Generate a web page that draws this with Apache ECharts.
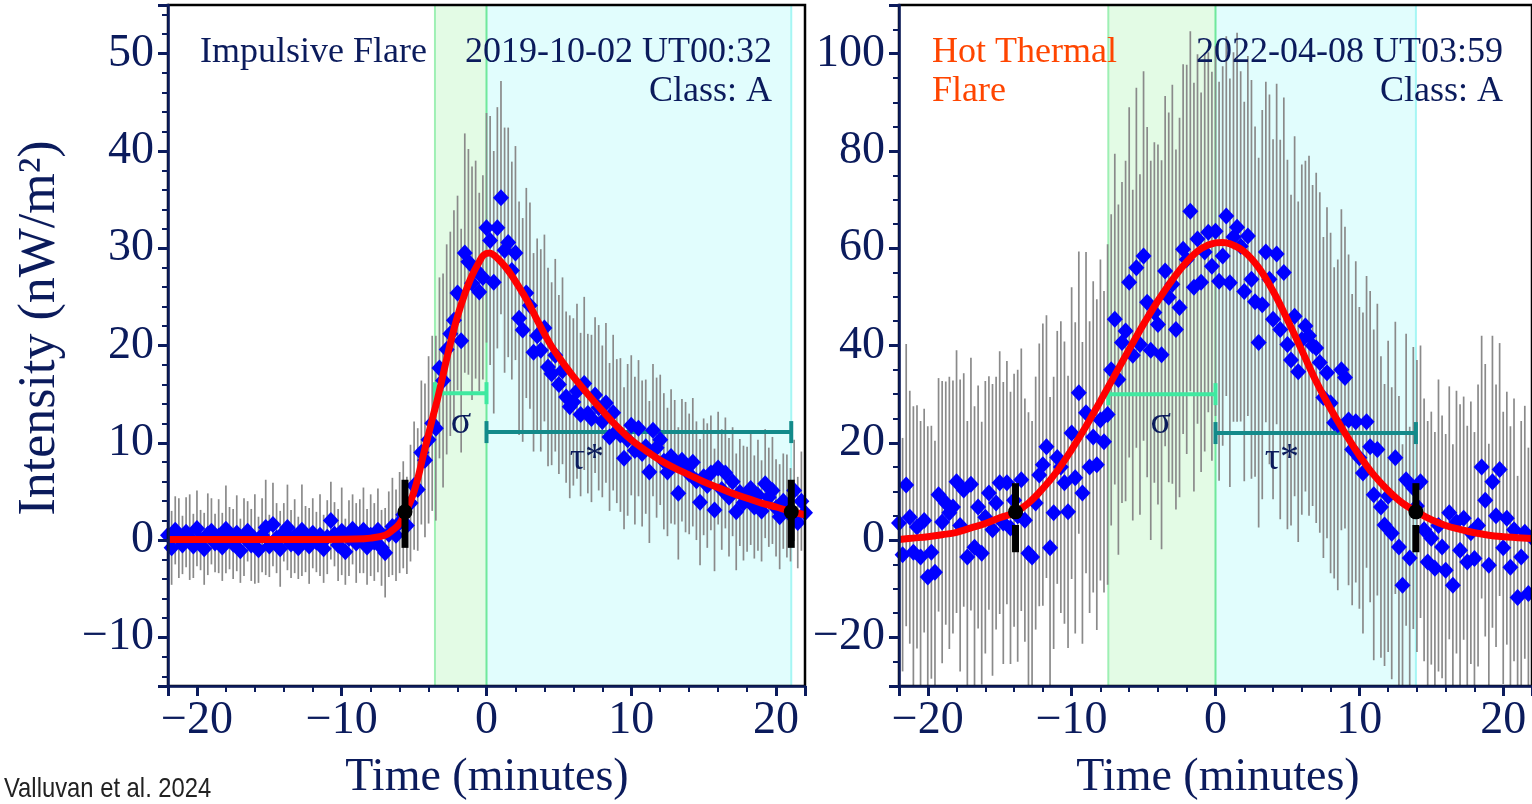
<!DOCTYPE html>
<html><head><meta charset="utf-8">
<script src="https://cdn.jsdelivr.net/npm/echarts@6/dist/echarts.min.js"></script>
<style>html,body{margin:0;padding:0;background:#fff}#c{width:1532px;height:804px}</style>
</head><body><div id="c"></div>
<script>
// ---- time grid (minutes from peak) ----
const T0 = -22, STEP = 0.25;

// ---- Impulsive flare (left) ----
const leftValues = [
 0.5,-0.8,1.0,0.2,-0.5,0.8,0.3,-0.6,
 1.2,0.0,-0.9,0.6,0.9,-0.3,0.4,-0.7,
 1.1,0.2,-0.4,0.7,-1.1,0.3,0.9,-0.5,
 0.1,-1.0,0.5,1.3,-0.6,1.6,0.2,-0.9,
 0.8,1.3,-0.4,0.4,-0.8,1.0,0.1,-0.6,
 0.7,-0.2,0.5,-0.9,0.3,2.0,0.6,-0.5,
 0.9,-1.2,0.2,1.1,-0.3,0.4,1.0,-0.7,
 0.5,-0.2,1.0,-0.8,-1.3,0.6,1.4,0.5,
 1.8,2.6,1.5,3.8,5.6,5.2,9.0,8.2,
 10.3,12.0,11.5,17.7,16.4,19.6,21.2,22.6,
 25.4,20.5,29.5,28.6,26.4,27.8,25.5,27.0,
 32.1,30.8,26.5,32.1,35.2,29.8,30.6,27.7,
 29.5,22.8,21.6,25.4,24.1,19.3,21.0,19.5,
 21.8,17.8,17.1,19.0,16.0,17.4,14.7,13.7,
 14.2,15.3,12.9,16.1,13.0,12.5,14.9,13.6,
 12.2,14.1,10.6,13.1,11.2,10.8,8.4,10.3,
 11.8,9.2,11.5,8.9,9.6,7.0,11.3,9.5,
 10.3,8.1,7.0,8.6,8.0,4.8,8.2,7.5,
 6.8,8.0,6.1,3.9,6.5,5.6,6.9,3.1,
 7.4,5.2,6.9,4.4,6.0,2.9,4.9,3.8,
 4.2,5.3,3.4,4.6,3.0,5.8,4.4,5.1,
 3.3,2.4,4.0,3.5,2.6,5.1,1.8,4.0,
 2.8];
const leftErrors = [
 3.2,3.8,3.5,4.1,3.0,3.6,4.4,3.3,3.9,3.1,
 3.7,4.2,3.4,3.0,3.8,3.5,4.5,3.2,3.6,3.9,
 3.3,4.0,3.1,3.7,4.6,3.4,3.8,4.9,3.2,4.3,
 3.6,3.9,3.0,4.4,3.5,3.8,3.2,4.7,3.4,3.9,
 3.6,3.1,4.2,3.5,3.8,4.0,3.3,3.7,4.5,3.4,
 3.9,3.6,4.1,3.8,4.4,3.9,4.2,
 4.0,4.3,3.9,4.6,4.4,5.0,4.7,5.2,
 5.5,5.0,6.0,6.6,6.3,7.4,7.9,8.6,
 9.0,9.5,9.3,11.0,10.8,10.5,11.3,10.0,
 11.5,12.3,11.6,12.0,11.2,10.2,10.5,11.8,
 12.8,13.5,12.4,12.0,12.6,11.8,11.2,11.0,
 12.0,11.5,10.8,10.6,10.2,10.0,10.4,9.6,
 10.2,9.4,9.9,9.2,9.6,8.8,9.4,8.6,
 9.0,8.4,8.9,8.2,8.6,8.0,8.5,7.8,
 8.2,7.6,8.0,7.4,7.9,7.3,7.8,7.2,
 7.6,7.0,7.5,6.9,7.3,6.8,7.2,6.7,
 7.0,6.6,6.9,6.4,6.8,6.3,6.7,6.2,
 6.6,6.1,6.5,6.0,6.4,5.9,6.3,5.8,
 6.2,5.7,6.1,5.6,6.0,5.5,5.9,5.4,
 5.8,5.3,5.7,5.2,5.6,5.1,5.5,5.0,
 5.4,4.9,5.3,4.8,5.2,4.7,5.1,4.6];
const leftFitT = [-22,-12,-9,-8,-7,-6.5,-6,-5.6,-5.3,-5,-4.7,-4.4,-4,-3.7,-3.4,-3,-2.5,-2,-1.5,-1,-0.5,-0.2,0.2,0.5,1,1.5,2,2.5,3,3.5,4,4.5,5,6,7,8,9,10,11,12,13,14,15,16,17,18,19,20,21,22];
const leftFitV = [0.05,0.05,0.1,0.2,0.5,1.0,1.7,2.9,3.8,5.0,6.6,8.5,10.9,12.7,14.4,17.0,20.2,23.0,25.3,27.2,28.6,29.3,29.5,29.3,28.6,27.7,26.6,25.4,24.1,22.6,21.2,19.9,18.8,16.8,15.0,13.3,11.7,10.3,9.2,8.2,7.4,6.7,6.0,5.4,4.8,4.3,3.8,3.4,2.95,2.6];
const leftBands = [-3.56, 0, 21.05];          // rise start, peak, decay end
const leftSigma = [-3.56, 0, 15.1];           // x1, x2, y
const leftTau = [0, 21.05, 11.1];
const leftMarkers = [[-5.63, 2.9, -0.8, 2.9, 6.2], [21.05, 2.9, -0.8, 2.9, 6.2]]; // t, v, lo, loTop, hi
const leftLabels = [[-1.76, 12.0, 'σ'], [6.94, 8.3, 'τ*']];

// ---- Hot thermal flare (right) ----
const rightValues = [
 3.5,-3.0,11.3,4.7,-2.5,2.7,-3.5,4.0,
 -7.6,-2.5,-6.6,9.3,3.7,7.6,5.6,6.8,
 12.0,3.0,10.3,-3.5,11.5,-1.5,6.8,-2.7,
 4.7,9.7,2.1,7.6,11.8,3.5,11.8,2.5,
 8.2,5.0,12.4,4.1,-2.7,-3.5,7.6,13.4,
 15.5,19.2,-1.6,5.6,17.0,15.0,11.8,5.8,
 22.0,12.8,30.3,9.7,26.2,15.0,21.2,15.5,
 24.7,20.2,25.8,35.0,45.4,33.0,40.6,43.0,
 53.0,38.0,56.0,40.2,58.4,48.9,39.0,46.8,
 44.3,38.1,55.3,49.9,52.6,43.3,47.8,59.8,
 57.7,67.6,52.0,61.9,53.0,59.2,63.3,56.3,
 63.5,53.2,58.4,66.6,52.9,62.3,64.3,60.4,
 51.1,62.5,53.6,49.0,40.6,48.4,59.2,53.6,
 45.4,58.8,43.3,55.0,40.2,37.0,46.0,34.6,
 41.2,44.0,42.0,40.0,39.5,36.5,29.3,34.4,
 28.2,24.1,23.7,35.0,33.4,24.7,18.6,24.3,
 16.9,13.8,24.3,19.2,9.3,18.6,6.8,3.1,
 9.0,1.4,16.9,-1.4,-9.3,12.4,-3.7,10.7,
 7.0,12.0,2.1,-4.5,0.4,-5.8,3.0,-1.4,
 -6.2,5.6,-9.3,3.7,-2.1,4.5,-4.5,1.5,
 -3.8,3.0,15.0,8.2,-5.2,12.0,5.0,14.5,
 -1.6,4.5,-5.6,2.1,-11.8,-3.5,1.6,-11.0,
 0.5];
const rightErrors = [
 27,24,29,26,30,25,28,23,
 31,26,27,24,29,25,28,26,
 27,30,24,28,26,29,25,27,
 28,24,30,26,27,29,25,28,
 26,30,27,25,29,28,26,27,
 29,27,31,28,26,30,29,28,
 30,32,29,31,33,30,32,34,
 33,31,35,32,34,36,33,35,
 36,34,37,35,38,36,39,35,
 37,40,36,38,41,37,39,38,
 40,37,42,38,39,41,37,40,
 38,41,39,37,42,38,40,36,
 39,37,41,36,38,40,35,38,
 37,35,39,36,38,34,37,35,
 36,34,37,33,36,35,33,34,
 35,32,34,33,31,34,32,33,
 31,33,30,32,34,30,31,29,
 32,30,28,31,29,30,27,29,
 30,28,27,29,26,28,30,27,
 28,26,29,27,30,25,28,27,
 26,29,27,28,25,30,27,26,
 28,26,29,27,25,28,26,30,
 27];
const rightFitT = [-22,-21,-20,-19,-18,-17,-16,-15,-14,-13,-12,-11,-10,-9,-8,-7,-6,-5,-4,-3,-2,-1,0,0.5,1,2,3,4,5,6,7,8,9,10,11,12,13,14,15,16,17,18,19,20,21,22];
const rightFitV = [0.1,0.4,0.7,1.1,1.6,2.5,3.4,4.6,5.6,7.6,10.6,14.2,18.6,23.4,28.6,33.9,39.2,44.4,49.2,53.5,57.2,59.9,61.1,61.2,60.9,59.3,56.0,51.2,45.3,39.0,32.6,27.0,22.0,17.4,13.4,10.2,7.6,5.8,4.2,3.0,2.2,1.5,1.0,0.7,0.5,0.3];
const rightBands = [-7.45, 0, 13.93];
const rightSigma = [-7.45, 0, 30.0];
const rightTau = [0, 13.93, 22.0];
const rightMarkers = [[-13.9, 5.8, -2.5, 3.1, 11.7], [13.93, 5.8, -2.5, 3.1, 11.7]];
const rightLabels = [[-3.8, 24.0, 'σ'], [4.62, 16.6, 'τ*']];

// ---- axes ----
const xRange = [-22, 22];
const leftYRange = [-15, 55];
const rightYRange = [-30, 110];

const NAVY = '#0b1b5c';
const SERIF = '"Liberation Serif", "Times New Roman", serif';
const fmt = v => (v < 0 ? '\u2212' + Math.abs(v) : String(v));

function times(arr) { return arr.map((_, i) => T0 + i * STEP); }

function errRender(yr) {
  return function (params, api) {
    const t = api.value(0), v = api.value(1), e = api.value(2);
    const lo = Math.max(v - e, yr[0]), hi = Math.min(v + e, yr[1]);
    const p1 = api.coord([t, lo]), p2 = api.coord([t, hi]);
    return {type: 'line', shape: {x1: p1[0], y1: p1[1], x2: p2[0], y2: p2[1]},
            style: {stroke: '#8a8a8a', lineWidth: 1.7}};
  };
}
const bandFill = ['#e3fbe5', '#e1fdfd'];
const bandLineColor = ['#9ef0b4', '#6fe89c', '#a6f6f4'];
function bandRender(yr) {
  return function (params, api) {
    const x1 = api.value(0), x2 = api.value(1), ci = api.value(2);
    const a = api.coord([x1, yr[1]]), b = api.coord([x2, yr[0]]);
    return {type: 'rect', shape: {x: a[0], y: a[1], width: b[0] - a[0], height: b[1] - a[1]},
            style: {fill: bandFill[ci]}};
  };
}
function bandLineRender(yr) {
  return function (params, api) {
    const x = api.value(0), ci = api.value(1);
    const a = api.coord([x, yr[1]]), b = api.coord([x, yr[0]]);
    return {type: 'line', shape: {x1: a[0], y1: a[1], x2: b[0], y2: b[1]},
            style: {stroke: bandLineColor[ci], lineWidth: 2}};
  };
}
const hbarColors = ['#3fe9a0', '#138a8a'];
function hbarRender(params, api) {
  const x1 = api.value(0), x2 = api.value(1), y = api.value(2), ci = api.value(3);
  const a = api.coord([x1, y]), b = api.coord([x2, y]);
  const st = {stroke: hbarColors[ci], lineWidth: 4};
  return {type: 'group', children: [
    {type: 'line', shape: {x1: a[0], y1: a[1], x2: b[0], y2: b[1]}, style: st},
    {type: 'line', shape: {x1: a[0], y1: a[1] - 11, x2: a[0], y2: a[1] + 11}, style: st},
    {type: 'line', shape: {x1: b[0], y1: b[1] - 11, x2: b[0], y2: b[1] + 11}, style: st}
  ]};
}
function markerRender(params, api) {
  const t = api.value(0), v = api.value(1), lo = api.value(2), loTop = api.value(3), hi = api.value(4);
  const c = api.coord([t, v]), pHi = api.coord([t, hi]), pLo = api.coord([t, lo]), pLt = api.coord([t, loTop]);
  const st = {stroke: '#000', lineWidth: 7};
  return {type: 'group', children: [
    {type: 'line', shape: {x1: c[0], y1: c[1], x2: pHi[0], y2: pHi[1]}, style: st},
    {type: 'line', shape: {x1: pLo[0], y1: pLo[1], x2: pLt[0], y2: pLt[1]}, style: st},
    {type: 'circle', shape: {cx: c[0], cy: c[1], r: 7.5}, style: {fill: '#000'}}
  ]};
}
function labelRender(labels) {
  return function (params, api) {
    const idx = api.value(2);
    const p = api.coord([api.value(0), api.value(1)]);
    return {type: 'text', x: p[0], y: p[1],
            style: {text: labels[idx], font: '38px ' + SERIF, fill: NAVY, align: 'center', verticalAlign: 'middle'}};
  };
}

function xAxisDef(gi) {
  return {type: 'value', gridIndex: gi, min: xRange[0], max: xRange[1], splitNumber: 5,
    minInterval: 10, maxInterval: 10, z: 12,
    axisLine: {show: true, onZero: false, lineStyle: {color: NAVY, width: 2.5}},
    axisTick: {show: true, length: 10, lineStyle: {color: NAVY, width: 3}},
    minorTick: {show: true, splitNumber: 5, length: 6, lineStyle: {color: NAVY, width: 2}},
    splitLine: {show: false}, minorSplitLine: {show: false},
    axisLabel: {fontFamily: SERIF, fontSize: 46, color: NAVY, margin: 12,
      showMinLabel: false, showMaxLabel: false, formatter: fmt}};
}
function yAxisDef(gi, yr, step, minorSplit) {
  return {type: 'value', gridIndex: gi, min: yr[0], max: yr[1], splitNumber: 7,
    minInterval: step, maxInterval: step, z: 12,
    axisLine: {show: true, onZero: false, lineStyle: {color: NAVY, width: 2.5}},
    axisTick: {show: true, length: 10, lineStyle: {color: NAVY, width: 3}},
    minorTick: {show: true, splitNumber: minorSplit, length: 6, lineStyle: {color: NAVY, width: 2}},
    splitLine: {show: false}, minorSplitLine: {show: false},
    axisLabel: {fontFamily: SERIF, fontSize: 46, color: NAVY, margin: 14,
      showMinLabel: false, showMaxLabel: false, formatter: fmt}};
}

function panelSeries(gi, vals, errs, fitT, fitV, bands, sigma, tau, markers, labels, yr) {
  const ts = times(vals);
  const base = {xAxisIndex: gi, yAxisIndex: gi};
  return [
    Object.assign({type: 'custom', z: 1, silent: true, clip: true, renderItem: bandRender(yr),
      data: [[bands[0], bands[1], 0], [bands[1], bands[2], 1]]}, base),
    Object.assign({type: 'custom', z: 2, silent: true, clip: true, renderItem: bandLineRender(yr),
      data: [[bands[0], 0], [bands[1], 1], [bands[2], 2]]}, base),
    Object.assign({type: 'custom', z: 3, silent: true, clip: true, renderItem: errRender(yr),
      data: ts.map((t, i) => [t, vals[i], errs[i]])}, base),
    Object.assign({type: 'custom', z: 4, silent: true, clip: true, renderItem: hbarRender,
      data: [[sigma[0], sigma[1], sigma[2], 0], [tau[0], tau[1], tau[2], 1]]}, base),
    Object.assign({type: 'scatter', z: 5, silent: true, clip: true, symbol: 'diamond', symbolSize: [16, 17],
      itemStyle: {color: '#0000ff', opacity: 1}, data: ts.map((t, i) => [t, vals[i]])}, base),
    Object.assign({type: 'line', z: 6, silent: true, clip: true, smooth: 0.4, symbol: 'none',
      lineStyle: {color: '#ff0000', width: 7}, data: fitT.map((t, i) => [t, fitV[i]])}, base),
    Object.assign({type: 'custom', z: 7, silent: true, clip: true, renderItem: markerRender,
      data: markers}, base),
    Object.assign({type: 'custom', z: 8, silent: true, renderItem: labelRender(labels.map(l => l[2])),
      data: labels.map((l, i) => [l[0], l[1], i])}, base)
  ];
}

const chart = echarts.init(document.getElementById('c'), null, {renderer: 'canvas'});
const gridBase = {show: true, borderColor: '#000', borderWidth: 2.5, backgroundColor: 'transparent', z: 10, containLabel: false};
const txt = (x, y, s, opt) => Object.assign({type: 'text', x: x, y: y, z: 100,
  style: Object.assign({text: s, font: '36px ' + SERIF, fill: NAVY, align: 'left', verticalAlign: 'middle'}, opt || {})});

chart.setOption({
  animation: false,
  backgroundColor: '#fff',
  grid: [Object.assign({left: 168, top: 5, width: 637, height: 681}, gridBase),
         Object.assign({left: 899, top: 5, width: 638, height: 681}, gridBase)],
  xAxis: [xAxisDef(0), xAxisDef(1)],
  yAxis: [yAxisDef(0, leftYRange, 10, 5), yAxisDef(1, rightYRange, 20, 4)],
  series: [].concat(
    panelSeries(0, leftValues, leftErrors, leftFitT, leftFitV, leftBands, leftSigma, leftTau, leftMarkers, leftLabels, leftYRange),
    panelSeries(1, rightValues, rightErrors, rightFitT, rightFitV, rightBands, rightSigma, rightTau, rightMarkers, rightLabels, rightYRange)
  ),
  graphic: [
    txt(200, 53, 'Impulsive Flare'),
    txt(772, 53, '2019-10-02 UT00:32', {align: 'right'}),
    txt(772, 92, 'Class: A', {align: 'right'}),
    txt(932, 53, 'Hot Thermal', {fill: '#ff4500'}),
    txt(932, 92, 'Flare', {fill: '#ff4500'}),
    txt(1503, 53, '2022-04-08 UT03:59', {align: 'right'}),
    txt(1503, 92, 'Class: A', {align: 'right'}),
    txt(487, 778, 'Time (minutes)', {align: 'center', font: '46px ' + SERIF}),
    txt(1218, 778, 'Time (minutes)', {align: 'center', font: '46px ' + SERIF}),
    Object.assign(txt(40, 328, 'Intensity (nW/m²)', {align: 'center', font: '52px ' + SERIF}), {rotation: Math.PI / 2}),
    Object.assign(txt(4, 789, 'Valluvan et al. 2024', {fill: '#222', font: '28px "Liberation Sans Narrow", "Liberation Sans", Arial, sans-serif'}), {scaleX: 0.85})
  ]
});
</script></body></html>
